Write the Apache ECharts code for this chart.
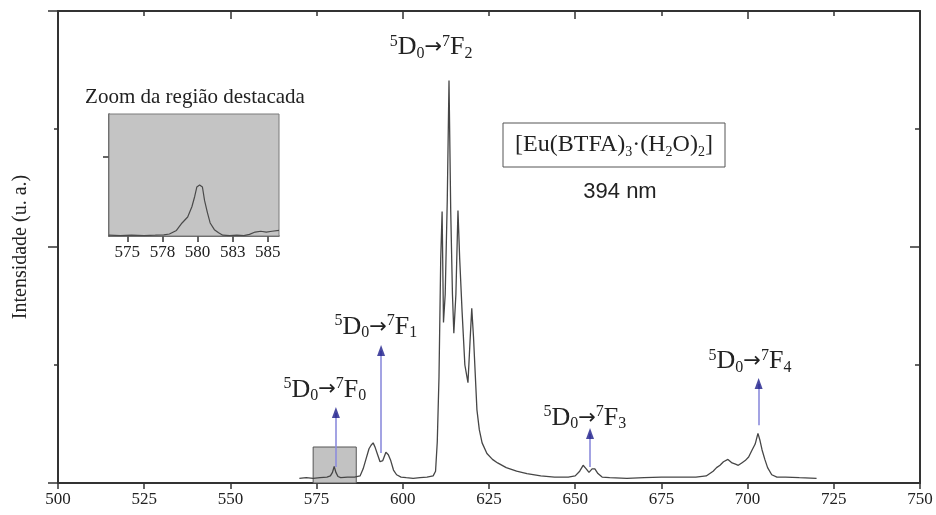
<!DOCTYPE html>
<html>
<head>
<meta charset="utf-8">
<script src="https://cdn.jsdelivr.net/npm/echarts@6/dist/echarts.min.js"></script>
<style>html,body{margin:0;padding:0;background:#fff}#c{width:936px;height:515px}</style>
</head>
<body>
<div id="c"></div>
<script>
// ---- main spectrum (nm, arbitrary intensity) ----
const wavelengths = [570,572,574,576,578,579,579.6,580.1,580.6,581.2,582,584,586,587.6,588.5,589.3,590.2,590.8,591.4,592,592.7,593.4,594.2,595.1,595.8,596.5,597.3,598.2,599.5,601,603,605,607,608.8,609.5,610,610.5,611,611.4,611.8,612.3,612.9,613.4,613.9,614.4,614.8,615.4,616,616.5,617.2,618,618.9,619.5,620,620.5,621.5,622.2,623,624.4,626,627.5,630,633,636,640,644,648,650,651.3,652.3,653.2,654,654.9,655.7,656.6,657.8,660,665,670,675,680,685,688,690,691,692,693,694.3,695.5,696.5,697.3,698.3,699.3,700.3,701.3,702.2,703,703.6,704.2,705,705.8,707,708.5,711,715,720];
const intensity = [0.04,0.045,0.04,0.045,0.05,0.06,0.09,0.14,0.09,0.055,0.045,0.05,0.05,0.06,0.12,0.2,0.29,0.32,0.34,0.30,0.24,0.18,0.19,0.26,0.24,0.19,0.11,0.07,0.05,0.045,0.04,0.045,0.05,0.06,0.1,0.35,0.9,1.9,2.30,1.36,1.6,2.4,3.41,2.3,1.6,1.27,1.6,2.31,1.9,1.45,1.0,0.85,1.2,1.48,1.24,0.62,0.45,0.34,0.25,0.2,0.17,0.13,0.1,0.08,0.06,0.05,0.05,0.06,0.1,0.15,0.12,0.09,0.12,0.12,0.08,0.05,0.045,0.04,0.045,0.05,0.05,0.05,0.06,0.1,0.13,0.15,0.18,0.2,0.17,0.16,0.15,0.17,0.19,0.22,0.28,0.33,0.42,0.36,0.28,0.2,0.13,0.07,0.05,0.05,0.045,0.04];

// ---- highlighted region (nm range, height) ----
const highlightX = [574, 586.5];
const highlightTop = 0.305;

// ---- inset (zoom of highlighted region) ----
const insetWavelengths = [573.7,574.5,575.3,576.2,577.0,577.6,578.0,578.5,578.9,579.3,579.6,579.8,579.95,580.15,580.35,580.5,580.7,580.9,581.2,581.5,581.8,582.3,582.8,583.3,583.7,584.1,584.5,584.9,585.3,585.8];
const insetIntensity = [0.01,0.005,0.01,0.005,0.01,0.015,0.025,0.07,0.165,0.24,0.37,0.5,0.62,0.645,0.62,0.45,0.3,0.165,0.08,0.04,0.01,0.005,0.01,0.005,0.02,0.05,0.06,0.05,0.06,0.07];
const insetTickValues = [575, 577.5, 580, 582.5, 585];
const insetTickLabels = ['575', '578', '580', '583', '585'];
const insetYTicks = [1];

// ---- transition arrows and labels ----
const arrowX = [580.6, 593.7, 654.3, 703.2];
const arrowFrom = [0.136, 0.254, 0.136, 0.49];
const arrowTo = [0.644, 1.17, 0.466, 0.89];
const labelLevel = ['0', '1', '2', '3', '4'];
const labelX = [577.4, 592.2, 608.2, 652.8, 700.7];
const labelY = [0.79, 1.32, 3.69, 0.55, 1.03];

const SERIF = '"Liberation Serif","DejaVu Serif",serif';
const SANS = '"Liberation Sans",Arial,sans-serif';

const chart = echarts.init(document.getElementById('c'), null, {renderer: 'canvas'});

const spectrum = wavelengths.map((w, i) => [w, intensity[i]]);
const insetData = insetWavelengths.map((w, i) => [w, insetIntensity[i]]);

const option = {
  animation: false,
  backgroundColor: '#fff',
  grid: [
    {left: 58, right: 16, top: 11, bottom: 32},
    {left: 109, top: 114, width: 170, height: 122, show: true, backgroundColor: '#c4c4c4', borderColor: '#7a7a7a', borderWidth: 1, z: 1}
  ],
  xAxis: [
    {gridIndex: 0, type: 'value', min: 500, max: 750, interval: 25, position: 'bottom',
     axisLine: {onZero: false, lineStyle: {color: '#333', width: 2}},
     axisTick: {inside: false, length: 6, lineStyle: {color: '#333', width: 1.5}},
     axisLabel: {color: '#222', fontFamily: SERIF, fontSize: 17, margin: 8},
     splitLine: {show: false}},
    {gridIndex: 0, type: 'value', min: 500, max: 750, interval: 50, position: 'top',
     axisLine: {onZero: false, lineStyle: {color: '#333', width: 2}},
     axisTick: {inside: true, length: 8, lineStyle: {color: '#333', width: 1.5}},
     minorTick: {show: true, splitNumber: 2, length: 5, lineStyle: {color: '#333', width: 1.5}},
     axisLabel: {show: false}, splitLine: {show: false}},
    {gridIndex: 1, type: 'value', min: 573.7, max: 585.8, position: 'bottom',
     axisLine: {onZero: false, lineStyle: {color: '#333', width: 1.5}},
     axisTick: {customValues: insetTickValues, inside: false, length: 6, lineStyle: {color: '#333', width: 1.5}},
     axisLabel: {customValues: insetTickValues, color: '#222', fontFamily: SERIF, fontSize: 17, margin: 8,
       formatter: v => { const i = insetTickValues.indexOf(v); return i >= 0 ? insetTickLabels[i] : ''; }},
     splitLine: {show: false}}
  ],
  yAxis: [
    {gridIndex: 0, type: 'value', min: 0, max: 4, interval: 2, position: 'left',
     name: 'Intensidade (u. a.)', nameLocation: 'middle', nameGap: 27, nameRotate: 90,
     nameTextStyle: {fontFamily: SERIF, fontSize: 20, color: '#222'},
     axisLine: {onZero: false, lineStyle: {color: '#333', width: 2}},
     axisTick: {inside: false, length: 10, lineStyle: {color: '#333', width: 1.5}},
     minorTick: {show: true, splitNumber: 2, length: 4, lineStyle: {color: '#333', width: 1.5}},
     axisLabel: {show: false}, splitLine: {show: false}},
    {gridIndex: 0, type: 'value', min: 0, max: 4, interval: 2, position: 'right',
     axisLine: {onZero: false, lineStyle: {color: '#333', width: 2}},
     axisTick: {inside: true, length: 10, lineStyle: {color: '#333', width: 1.5}},
     minorTick: {show: true, splitNumber: 2, length: 5, lineStyle: {color: '#333', width: 1.5}},
     axisLabel: {show: false}, splitLine: {show: false}},
    {gridIndex: 1, type: 'value', min: 0, max: 1.544, position: 'left',
     axisLine: {onZero: false, lineStyle: {color: '#333', width: 1.5}},
     axisTick: {customValues: insetYTicks, inside: false, length: 6, lineStyle: {color: '#333', width: 1.5}},
     axisLabel: {show: false}, splitLine: {show: false}}
  ],
  series: [
    {type: 'line', xAxisIndex: 0, yAxisIndex: 0, data: [], z: 1, silent: true,
     markArea: {silent: true, itemStyle: {color: '#c2c2c2', borderColor: '#555', borderWidth: 1, opacity: 1},
       data: [[{coord: [highlightX[0], 0]}, {coord: [highlightX[1], highlightTop]}]]}},
    {type: 'line', xAxisIndex: 0, yAxisIndex: 0, data: spectrum, z: 3, showSymbol: false, silent: true,
     lineStyle: {color: '#464646', width: 1.3}},
    {type: 'line', xAxisIndex: 0, yAxisIndex: 0, data: [], z: 4, silent: true,
     markLine: {silent: true, symbol: ['none', 'none'], label: {show: false},
       lineStyle: {color: '#8c8cdc', width: 1.6, type: 'solid'},
       data: arrowX.map((x, i) => [{coord: [x, arrowFrom[i]]}, {coord: [x, arrowTo[i] - 0.05]}])}},
    {type: 'scatter', xAxisIndex: 0, yAxisIndex: 0, z: 5, silent: true,
     symbol: 'triangle', symbolSize: [8, 11], symbolOffset: [0, 5.5],
     itemStyle: {color: '#1c1c8a'},
     data: arrowX.map((x, i) => [x, arrowTo[i]])},
    {type: 'line', xAxisIndex: 2, yAxisIndex: 2, data: insetData, z: 3, showSymbol: false, silent: true,
     lineStyle: {color: '#4a4a4a', width: 1.2}}
  ]
};
chart.setOption(option);

const rich = {
  m: {fontFamily: SERIF, fontSize: 26, lineHeight: 28, fill: '#222', verticalAlign: 'middle'},
  a: {fontFamily: 'DejaVu Sans', fontSize: 21, lineHeight: 28, fill: '#222', verticalAlign: 'middle'},
  s: {fontFamily: SERIF, fontSize: 16, lineHeight: 14, fill: '#222', verticalAlign: 'top'},
  b: {fontFamily: SERIF, fontSize: 16, lineHeight: 14, fill: '#222', verticalAlign: 'bottom'}
};
const graphics = labelLevel.map((lv, i) => {
  const p = chart.convertToPixel({gridIndex: 0}, [labelX[i], labelY[i]]);
  return {type: 'text', x: p[0], y: p[1], z: 10, silent: true,
    style: {text: '{s|5}{m|D}{b|0}{a|\u2192}{s|7}{m|F}{b|' + lv + '}', rich: rich, align: 'center', verticalAlign: 'middle'}};
});
const frich = {
  m: {fontFamily: SERIF, fontSize: 24, lineHeight: 28, fill: '#222', verticalAlign: 'middle'},
  b: {fontFamily: SERIF, fontSize: 14, lineHeight: 13, fill: '#222', verticalAlign: 'bottom'}
};
graphics.push(
  {type: 'rect', shape: {x: 503, y: 123, width: 222, height: 44}, z: 10, silent: true,
   style: {fill: '#fff', stroke: '#555', lineWidth: 1}},
  {type: 'text', x: 614, y: 145, z: 11, silent: true,
   style: {text: '{m|[Eu(BTFA)}{b|3}{m|\u00b7(H}{b|2}{m|O)}{b|2}{m|]}', rich: frich, align: 'center', verticalAlign: 'middle'}},
  {type: 'text', x: 620, y: 192, z: 11, silent: true,
   style: {text: '394 nm', font: '22px ' + SANS, fill: '#222', align: 'center', verticalAlign: 'middle'}},
  {type: 'text', x: 195, y: 97, z: 11, silent: true,
   style: {text: 'Zoom da região destacada', font: '21px ' + SERIF, fill: '#222', align: 'center', verticalAlign: 'middle'}}
);
chart.setOption({graphic: graphics});
</script>
</body>
</html>
